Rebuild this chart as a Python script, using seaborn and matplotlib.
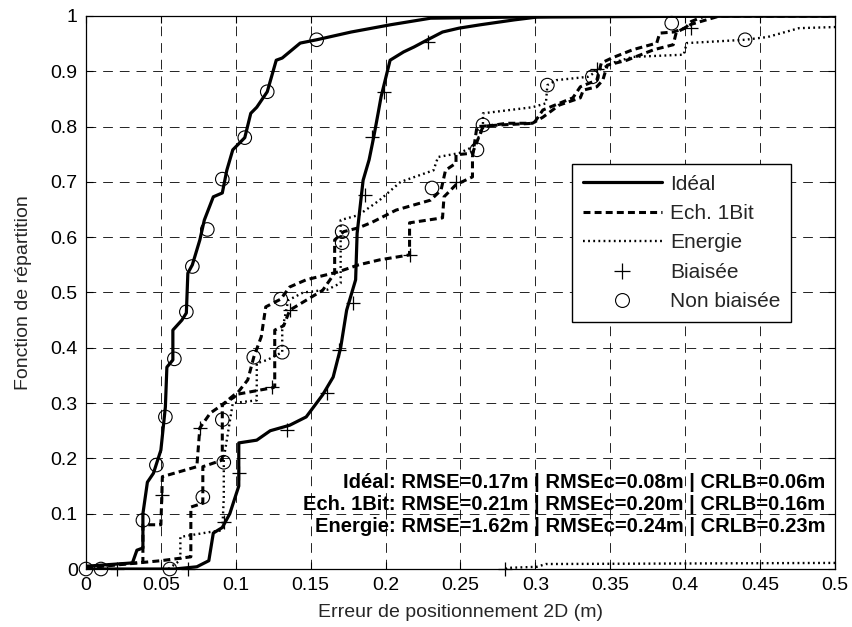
import matplotlib
matplotlib.use("Agg")
import matplotlib.pyplot as plt
import seaborn as sns
from matplotlib.lines import Line2D

# --- CDF curves (x = error in m, y = cumulative probability)
ideal_nb_x = [0, 0.031, 0.034, 0.038, 0.038, 0.041, 0.045, 0.050, 0.053, 0.054, 0.058, 0.058,
              0.064, 0.067, 0.068, 0.071, 0.076, 0.079, 0.085, 0.091, 0.094, 0.098, 0.106, 0.110,
              0.114, 0.121, 0.127, 0.131, 0.143, 0.154, 0.177, 0.203, 0.230, 0.286, 0.325, 0.5]
ideal_nb_y = [0.005, 0.011, 0.034, 0.038, 0.1, 0.157, 0.173, 0.215, 0.293, 0.365, 0.378, 0.432,
              0.45, 0.463, 0.535, 0.55, 0.595, 0.631, 0.673, 0.68, 0.721, 0.758, 0.78, 0.824,
              0.835, 0.863, 0.92, 0.924, 0.951, 0.957, 0.971, 0.984, 0.996, 0.998, 1.0, 1.0]

ideal_b_x = [0, 0.059, 0.074, 0.082, 0.085, 0.091, 0.096, 0.102, 0.102, 0.114, 0.123, 0.136,
             0.147, 0.158, 0.165, 0.170, 0.174, 0.180, 0.181, 0.185, 0.189, 0.192, 0.195, 0.197,
             0.203, 0.212, 0.219, 0.228, 0.238, 0.249, 0.263, 0.286, 0.301, 0.443, 0.5]
ideal_b_y = [0, 0, 0.004, 0.015, 0.065, 0.075, 0.1, 0.15, 0.228, 0.233, 0.25, 0.26,
             0.275, 0.315, 0.347, 0.4, 0.468, 0.523, 0.607, 0.703, 0.74, 0.78, 0.824, 0.854,
             0.92, 0.935, 0.944, 0.957, 0.971, 0.978, 0.984, 0.993, 0.998, 1.0, 1.0]

bit_a_x = [0, 0.038, 0.038, 0.050, 0.051, 0.074, 0.076, 0.083, 0.091, 0.099, 0.108, 0.112,
           0.117, 0.120, 0.130, 0.136, 0.147, 0.168, 0.182, 0.196, 0.216, 0.216, 0.238, 0.239,
           0.247, 0.258, 0.258, 0.261, 0.277, 0.299, 0.305, 0.325, 0.330, 0.341, 0.344, 0.351,
           0.365, 0.381, 0.383, 0.392, 0.400, 0.404, 0.413, 0.5]
bit_a_y = [0.004, 0.012, 0.08, 0.08, 0.167, 0.185, 0.255, 0.282, 0.297, 0.311, 0.342, 0.383,
           0.42, 0.474, 0.488, 0.51, 0.523, 0.537, 0.55, 0.559, 0.568, 0.626, 0.635, 0.673,
           0.695, 0.709, 0.745, 0.8, 0.803, 0.806, 0.83, 0.852, 0.872, 0.884, 0.915, 0.924,
           0.939, 0.951, 0.969, 0.971, 0.978, 0.99, 1.0, 1.0]

bit_b_x = [0, 0.050, 0.070, 0.070, 0.078, 0.078, 0.091, 0.091, 0.099, 0.125, 0.126, 0.126,
           0.132, 0.136, 0.147, 0.158, 0.166, 0.166, 0.172, 0.182, 0.191, 0.207, 0.230, 0.237,
           0.240, 0.247, 0.247, 0.258, 0.265, 0.281, 0.298, 0.305, 0.316, 0.330, 0.332, 0.341,
           0.345, 0.348, 0.361, 0.379, 0.392, 0.394, 0.404, 0.423, 0.5]
bit_b_y = [0.002, 0.015, 0.022, 0.112, 0.119, 0.185, 0.197, 0.297, 0.315, 0.328, 0.33, 0.432,
           0.44, 0.468, 0.486, 0.504, 0.535, 0.595, 0.61, 0.617, 0.627, 0.649, 0.667, 0.685,
           0.721, 0.734, 0.749, 0.752, 0.8, 0.806, 0.806, 0.817, 0.839, 0.852, 0.866, 0.872,
           0.884, 0.911, 0.92, 0.939, 0.948, 0.97, 0.985, 1.0, 1.0]

energy_nb_x = [0.055, 0.063, 0.063, 0.083, 0.091, 0.092, 0.092, 0.095, 0.098, 0.114, 0.114, 0.121,
               0.131, 0.131, 0.135, 0.145, 0.161, 0.170, 0.170, 0.182, 0.196, 0.210, 0.232, 0.235,
               0.249, 0.258, 0.265, 0.265, 0.298, 0.307, 0.308, 0.314, 0.335, 0.341, 0.351, 0.365,
               0.399, 0.401, 0.440, 0.455, 0.476, 0.5]
energy_nb_y = [0, 0.016, 0.058, 0.067, 0.07, 0.13, 0.2, 0.25, 0.3, 0.305, 0.372, 0.378,
               0.392, 0.432, 0.486, 0.5, 0.505, 0.517, 0.631, 0.64, 0.667, 0.7, 0.721, 0.745,
               0.752, 0.763, 0.794, 0.824, 0.835, 0.842, 0.875, 0.884, 0.89, 0.9, 0.915, 0.926,
               0.93, 0.951, 0.957, 0.962, 0.978, 0.98]

energy_b_x = [0.280, 0.281, 0.301, 0.307, 0.5]
energy_b_y = [0, 0.002, 0.004, 0.009, 0.011]

# marker positions (+ = biaisée, o = non biaisée)
plus_x = [0.021, 0.051, 0.068, 0.076, 0.092, 0.102, 0.124, 0.134, 0.136, 0.161, 0.169,
          0.178, 0.186, 0.191, 0.199, 0.216, 0.228, 0.247, 0.280, 0.341, 0.404]
plus_y = [0.0, 0.134, 0.0, 0.255, 0.085, 0.173, 0.33, 0.251, 0.468, 0.318, 0.396,
          0.481, 0.676, 0.781, 0.863, 0.568, 0.953, 0.70, 0.0, 0.905, 0.978]
circ_x = [0, 0.010, 0.038, 0.047, 0.053, 0.056, 0.059, 0.067, 0.071, 0.078, 0.081, 0.091,
          0.092, 0.091, 0.106, 0.112, 0.121, 0.130, 0.131, 0.154, 0.171, 0.171, 0.231, 0.261,
          0.265, 0.308, 0.338, 0.391, 0.440]
circ_y = [0, 0, 0.088, 0.188, 0.275, 0.0, 0.38, 0.465, 0.547, 0.13, 0.614, 0.27,
          0.193, 0.705, 0.78, 0.383, 0.863, 0.488, 0.392, 0.957, 0.59, 0.61, 0.689, 0.758,
          0.803, 0.875, 0.89, 0.987, 0.957]

stats_lines = ["Idéal: RMSE=0.17m | RMSEc=0.08m | CRLB=0.06m",
               "Ech. 1Bit: RMSE=0.21m | RMSEc=0.20m | CRLB=0.16m",
               "Energie: RMSE=1.62m | RMSEc=0.24m | CRLB=0.23m"]

SOLID = None
DASH = (5, 3)
DOT = (1.3, 2.4)


def draw_curve(ax, x, y, dashes, lw):
    sns.lineplot(x=x, y=y, sort=False, estimator=None, color='black', lw=lw, ax=ax)
    line = ax.lines[-1]
    if dashes is not None:
        line.set_dashes(dashes)
    return line


def plot_cdf():
    sns.set_theme(style="ticks")
    plt.rcParams['font.family'] = ['Liberation Sans', 'DejaVu Sans']
    plt.rcParams['lines.scale_dashes'] = False

    fig, ax = plt.subplots(figsize=(8.53, 6.27), dpi=100)
    fig.subplots_adjust(left=0.1008, right=0.9789, top=0.9745, bottom=0.0925)

    draw_curve(ax, ideal_nb_x, ideal_nb_y, SOLID, 2.3)
    draw_curve(ax, ideal_b_x, ideal_b_y, SOLID, 2.3)
    draw_curve(ax, bit_a_x, bit_a_y, DASH, 2.2)
    draw_curve(ax, bit_b_x, bit_b_y, DASH, 2.2)
    draw_curve(ax, energy_nb_x, energy_nb_y, DOT, 1.7)
    draw_curve(ax, energy_b_x, energy_b_y, DOT, 1.7)

    sns.scatterplot(x=plus_x, y=plus_y, marker='+', s=110, color='black',
                    linewidth=0.9, ax=ax, clip_on=False, zorder=5)
    sns.scatterplot(x=circ_x, y=circ_y, marker='o', s=95, facecolor='none',
                    edgecolor='black', linewidth=0.8, ax=ax, clip_on=False, zorder=5)

    ax.set_xlim(0, 0.5)
    ax.set_ylim(0, 1)
    ax.set_xticks([0, 0.05, 0.1, 0.15, 0.2, 0.25, 0.3, 0.35, 0.4, 0.45, 0.5])
    ax.set_xticklabels(['0', '0.05', '0.1', '0.15', '0.2', '0.25', '0.3', '0.35', '0.4', '0.45', '0.5'])
    ax.set_yticks([0, 0.1, 0.2, 0.3, 0.4, 0.5, 0.6, 0.7, 0.8, 0.9, 1])
    ax.set_yticklabels(['0', '0.1', '0.2', '0.3', '0.4', '0.5', '0.6', '0.7', '0.8', '0.9', '1'])
    ax.tick_params(direction='in', top=True, right=True, length=5, width=0.8,
                   labelsize=14, colors='black', pad=6)
    ax.grid(True, color='black', linestyle=(0, (7, 5)), linewidth=0.6)
    for sp in ax.spines.values():
        sp.set_visible(True)
        sp.set_color('black')
        sp.set_linewidth(0.9)

    ax.set_xlabel('Erreur de positionnement 2D (m)', fontsize=14, labelpad=7)
    ax.set_ylabel('Fonction de répartition', fontsize=14, labelpad=13)

    for txt, yy in zip(stats_lines, [0.157, 0.116, 0.076]):
        ax.text(0.987, yy, txt, transform=ax.transAxes, ha='right', va='center',
                fontsize=14.5, fontweight='bold', color='black')

    handles = [Line2D([], [], color='black', lw=2.3),
               Line2D([], [], color='black', lw=2.2, dashes=DASH),
               Line2D([], [], color='black', lw=1.7, dashes=DOT),
               Line2D([], [], color='black', marker='+', ls='none', ms=11, mew=0.9),
               Line2D([], [], color='black', marker='o', ls='none', ms=10, mfc='none', mew=0.8)]
    labels = ['Idéal', 'Ech. 1Bit', 'Energie', 'Biaisée', 'Non biaisée']
    leg = ax.legend(handles, labels, loc='upper right', bbox_to_anchor=(0.941, 0.732),
                    borderaxespad=0, fontsize=15, handlelength=3.8, handletextpad=0.4,
                    labelspacing=0.5, borderpad=0.5,
                    fancybox=False, framealpha=1, edgecolor='black')
    leg.get_frame().set_linewidth(1.0)

    fig.savefig('out.png', dpi=100)


plot_cdf()
